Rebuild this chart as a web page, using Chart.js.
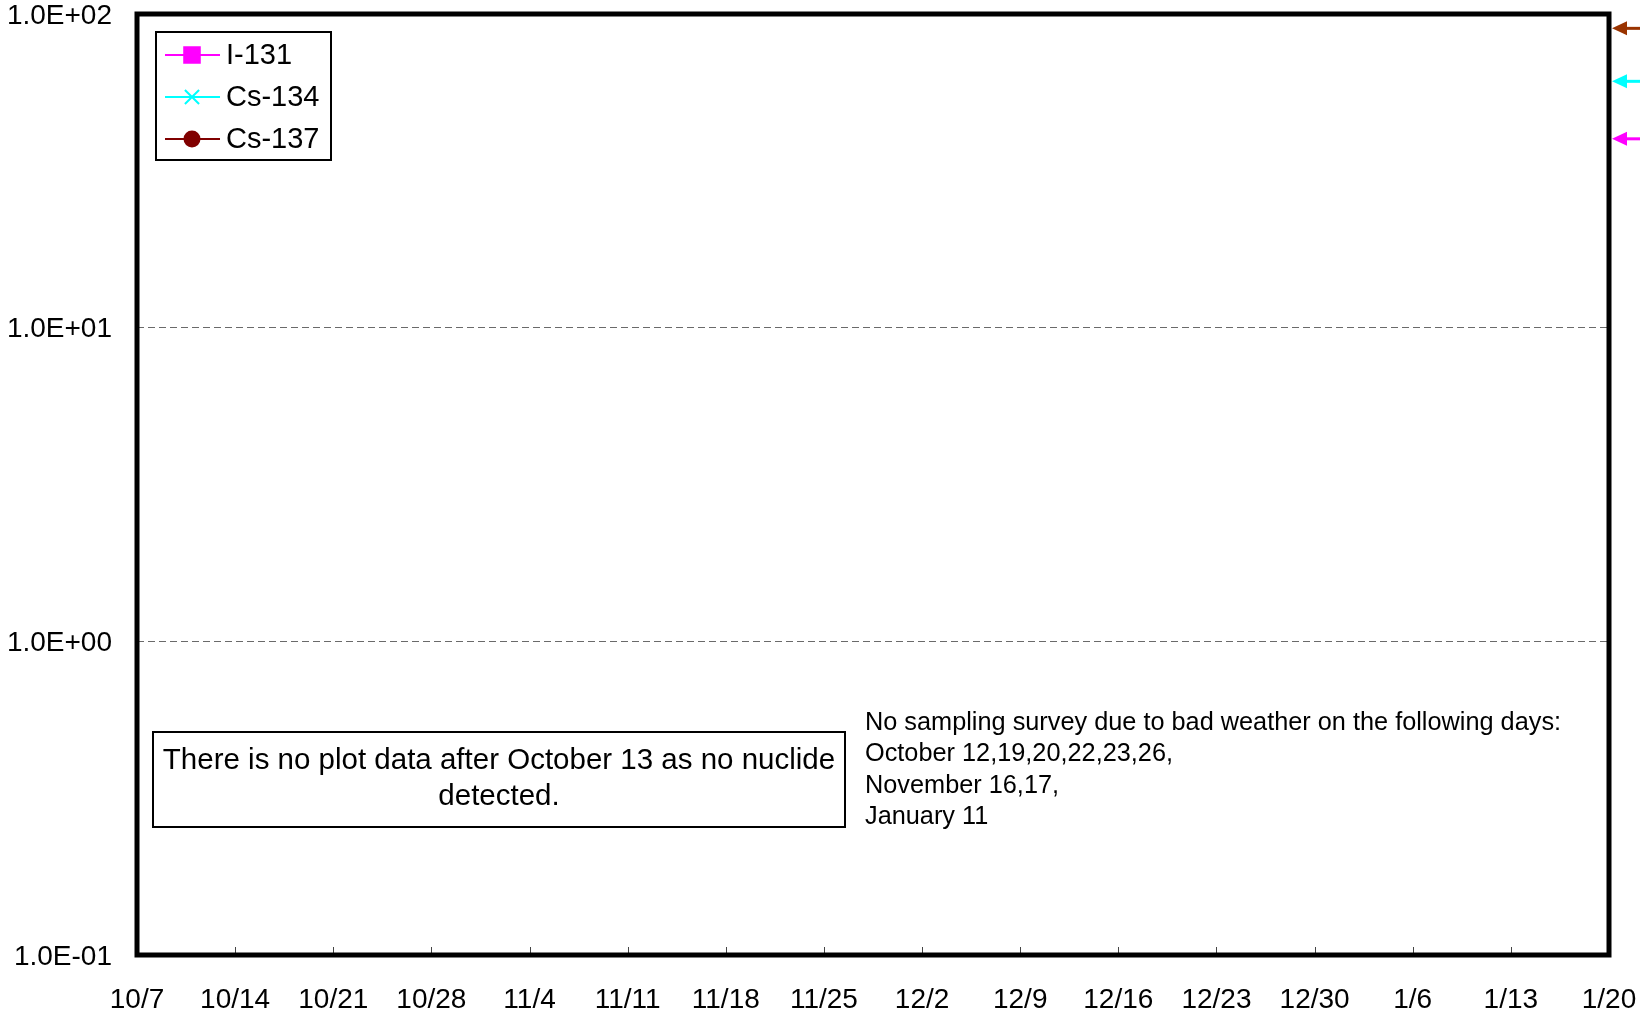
<!DOCTYPE html>
<html>
<head>
<meta charset="utf-8">
<script src="https://cdn.jsdelivr.net/npm/chart.js@4.4.1/dist/chart.umd.min.js"></script>
<style>
  html, body { margin: 0; padding: 0; background: #fff; }
  canvas { display: block; }
</style>
</head>
<body>
<canvas id="dustChart" width="1640" height="1017"></canvas>
<script>
// x axis: days counted from 10/7, one tick per week
const xTickDays = [0, 7, 14, 21, 28, 35, 42, 49, 56, 63, 70, 77, 84, 91, 98, 105];
const xTickLabels = ['10/7', '10/14', '10/21', '10/28', '11/4', '11/11', '11/18', '11/25',
                     '12/2', '12/9', '12/16', '12/23', '12/30', '1/6', '1/13', '1/20'];
const yTickValues = [0.1, 1, 10, 100];
const yTickLabels = ['1.0E-01', '1.0E+00', '1.0E+01', '1.0E+02'];

// no nuclide detected in this period -> empty series
const seriesNames = ['I-131', 'Cs-134', 'Cs-137'];
const i131Values = [];
const cs134Values = [];
const cs137Values = [];

// off-scale markers on the right edge
const arrowValues = [90, 61, 40];
const arrowColors = ['#993300', '#00FFFF', '#FF00FF'];

const FONT = '"Liberation Sans", Arial, sans-serif';

const framePlugin = {
    id: 'frame',
    afterDraw(chart) {
        const ctx = chart.ctx;
        const a = chart.chartArea;
        const xs = chart.scales.x;
        const ys = chart.scales.y;
        ctx.save();

        // inward x ticks
        ctx.strokeStyle = '#444';
        ctx.lineWidth = 1;
        xTickDays.forEach(d => {
            const px = Math.round(xs.getPixelForValue(d)) + 0.5;
            ctx.beginPath();
            ctx.moveTo(px, a.bottom);
            ctx.lineTo(px, a.bottom - 8);
            ctx.stroke();
        });

        // thick frame
        ctx.strokeStyle = '#000';
        ctx.lineWidth = 5;
        ctx.strokeRect(a.left, a.top, a.right - a.left, a.bottom - a.top);

        // arrows outside right edge
        arrowValues.forEach((v, i) => {
            const py = ys.getPixelForValue(v);
            const tip = a.right + 3;
            ctx.fillStyle = arrowColors[i];
            ctx.strokeStyle = arrowColors[i];
            ctx.lineWidth = 3;
            ctx.beginPath();
            ctx.moveTo(tip + 10, py);
            ctx.lineTo(chart.width, py);
            ctx.stroke();
            ctx.beginPath();
            ctx.moveTo(tip, py);
            ctx.lineTo(tip + 15, py - 7);
            ctx.lineTo(tip + 15, py + 7);
            ctx.closePath();
            ctx.fill();
        });

        // legend
        const lx = 156, ly = 32, lw = 175, lh = 128;
        ctx.fillStyle = '#fff';
        ctx.fillRect(lx, ly, lw, lh);
        ctx.strokeStyle = '#000';
        ctx.lineWidth = 2;
        ctx.strokeRect(lx, ly, lw, lh);
        ctx.font = '29px ' + FONT;
        ctx.textBaseline = 'middle';
        ctx.textAlign = 'left';
        chart.data.datasets.forEach((ds, i) => {
            const cy = 55 + i * 42;
            ctx.strokeStyle = ds.borderColor;
            ctx.lineWidth = 2;
            ctx.beginPath();
            ctx.moveTo(165, cy);
            ctx.lineTo(220, cy);
            ctx.stroke();
            ctx.fillStyle = ds.pointBackgroundColor;
            ctx.strokeStyle = ds.pointBorderColor;
            Chart.helpers.drawPoint(ctx, {
                pointStyle: ds.pointStyle,
                radius: ds.legendRadius,
                rotation: 0,
                borderWidth: ds.pointBorderWidth
            }, 192, cy);
            ctx.fillStyle = '#000';
            ctx.fillText(ds.label, 226, cy + 1);
        });

        // note box
        ctx.fillStyle = '#fff';
        ctx.fillRect(153, 732, 692, 95);
        ctx.strokeStyle = '#000';
        ctx.lineWidth = 2;
        ctx.strokeRect(153, 732, 692, 95);
        ctx.fillStyle = '#000';
        ctx.textAlign = 'center';
        ctx.font = '29.5px ' + FONT;
        ctx.fillText('There is no plot data after October 13 as no nuclide', 499, 761);
        ctx.fillText('detected.', 499, 797);

        // weather note
        ctx.textAlign = 'left';
        ctx.font = '25.3px ' + FONT;
        const noteLines = [
            'No sampling survey due to bad weather on the following days:',
            'October 12,19,20,22,23,26,',
            'November 16,17,',
            'January 11'
        ];
        noteLines.forEach((t, i) => ctx.fillText(t, 865, 723 + i * 31.4));

        ctx.restore();
    }
};

new Chart(document.getElementById('dustChart'), {
    type: 'line',
    data: {
        datasets: [
            {
                label: seriesNames[0],
                data: i131Values,
                borderColor: '#FF00FF',
                pointBackgroundColor: '#FF00FF',
                pointBorderColor: '#FF00FF',
                pointStyle: 'rect',
                pointBorderWidth: 1,
                legendRadius: 11
            },
            {
                label: seriesNames[1],
                data: cs134Values,
                borderColor: '#00FFFF',
                pointBackgroundColor: '#00FFFF',
                pointBorderColor: '#00FFFF',
                pointStyle: 'crossRot',
                pointBorderWidth: 2,
                legendRadius: 10
            },
            {
                label: seriesNames[2],
                data: cs137Values,
                borderColor: '#800000',
                pointBackgroundColor: '#800000',
                pointBorderColor: '#800000',
                pointStyle: 'circle',
                pointBorderWidth: 1,
                legendRadius: 7.5
            }
        ]
    },
    options: {
        responsive: false,
        animation: false,
        layout: { padding: { top: 14, right: 31, left: 0, bottom: 0 } },
        plugins: {
            legend: { display: false },
            tooltip: { enabled: false }
        },
        scales: {
            x: {
                type: 'linear',
                min: 0,
                max: 105,
                afterBuildTicks: scale => {
                    scale.ticks = xTickDays.map(v => ({ value: v }));
                },
                afterFit: scale => {
                    scale.height = 62;
                    scale.paddingLeft = 0;
                    scale.paddingRight = 0;
                },
                grid: { display: false, drawTicks: false },
                border: { display: false },
                ticks: {
                    autoSkip: false,
                    maxRotation: 0,
                    padding: 28,
                    color: '#000',
                    font: { family: FONT, size: 28 },
                    callback: (v, i) => xTickLabels[i]
                }
            },
            y: {
                type: 'logarithmic',
                min: 0.1,
                max: 100,
                afterBuildTicks: scale => {
                    scale.ticks = yTickValues.map(v => ({ value: v }));
                },
                afterFit: scale => {
                    scale.width = 137;
                    scale.paddingTop = 0;
                    scale.paddingBottom = 0;
                },
                grid: {
                    drawTicks: false,
                    lineWidth: 1,
                    color: c => (c.tick && (c.tick.value === 1 || c.tick.value === 10)) ? '#6a6a6a' : 'rgba(0,0,0,0)'
                },
                border: { display: false, dash: [7, 4] },
                ticks: {
                    padding: 25,
                    labelOffset: 2,
                    color: '#000',
                    font: { family: FONT, size: 28 },
                    callback: (v, i) => yTickLabels[i]
                }
            }
        }
    },
    plugins: [framePlugin]
});
</script>
</body>
</html>
